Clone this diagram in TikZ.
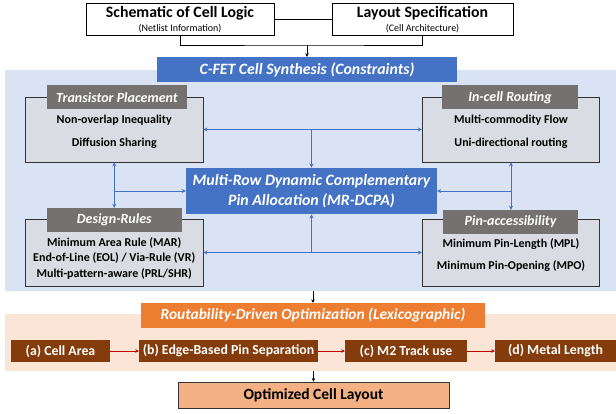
\documentclass[tikz,border=0pt]{standalone}
\usepackage{fontspec}
\setmainfont{Carlito}
\usetikzlibrary{arrows.meta}
\definecolor{cblue}{HTML}{4472C4}
\definecolor{bgblue}{HTML}{DAE3F3}
\definecolor{boxgray}{HTML}{D9DCE2}
\definecolor{hdrgray}{HTML}{767171}
\definecolor{corange}{HTML}{ED7D31}
\definecolor{bgpeach}{HTML}{FBE5D6}
\definecolor{cbrown}{HTML}{843C0C}
\definecolor{optfill}{HTML}{F4B183}
\definecolor{cred}{HTML}{C00000}
\tikzset{
  inbox/.style={draw=black, line width=0.8pt, fill=white, align=center, inner sep=0pt},
  bgarea/.style={draw=none, inner sep=0pt},
  bluebar/.style={fill=cblue, text=white, font=\fontsize{15.8}{18}\selectfont\bfseries\itshape, inner sep=0pt, align=center},
  panel/.style={draw=black!80, line width=0.7pt, fill=boxgray, inner sep=0pt, minimum width=177.5pt},
  hdr/.style={fill=hdrgray, text=white, font=\fontsize{14}{16}\selectfont\bfseries\itshape, inner sep=0pt, minimum height=24pt},
  body/.style={font=\fontsize{12}{14}\selectfont\bfseries, inner sep=0pt},
  barrow/.style={draw=cblue, line width=0.9pt, -{Stealth[length=4pt,width=4pt]}},
  bbarrow/.style={draw=cblue, line width=0.9pt, {Stealth[length=4pt,width=4pt]}-{Stealth[length=4pt,width=4pt]}},
  kline/.style={draw=black, line width=0.9pt},
  karrow/.style={draw=black, line width=0.9pt, -{Stealth[length=3.5pt,width=3.5pt]}},
  brownbox/.style={fill=cbrown, text=white, font=\fontsize{13.8}{16}\selectfont\bfseries, inner sep=0pt, minimum height=22pt},
  rarrow/.style={draw=cred, line width=0.6pt, -{Stealth[length=3.5pt,width=3.5pt]}},
  titletxt/.style={font=\fontsize{15.8}{18}\selectfont\bfseries, inner sep=0pt},
  subtxt/.style={font=\fontsize{10}{12}\selectfont, inner sep=0pt},
}
\begin{document}
\begin{tikzpicture}[x=1pt,y=-1pt]
\useasboundingbox (0,0) rectangle (616,413);
% input boxes
\node[inbox, minimum width=188pt, minimum height=32pt] (sch) at (180,19) {};
\node[titletxt] (schT) at (180,13) {Schematic of Cell Logic};
\node[subtxt] (schS) at (180,28.5) {(Netlist Information)};
\node[inbox, minimum width=181pt, minimum height=32pt] (lay) at (422.5,19) {};
\node[titletxt] (layT) at (422.5,13) {Layout Specification};
\node[subtxt] (layS) at (422.5,28.5) {(Cell Architecture)};
\draw[kline] (sch.east) -- (lay.west);
\coordinate (join) at (307,45);
\draw[kline] (sch.south) |- (join) -| (lay.south);
% blue area
\node[bgarea, fill=bgblue, minimum width=611pt, minimum height=221pt] (bgb) at (310.5,180.5) {};
\node[bluebar, minimum width=300pt, minimum height=25pt] (cfet) at (307,69.5) {C-FET Cell Synthesis (Constraints)};
\draw[karrow] (join) -- (cfet.north);
% panels
\node[panel, minimum height=65pt] (tp) at (114.25,129.5) {};
\node[hdr, minimum width=140pt] (tph) at (117,97.3) {Transistor Placement};
\node[body] (tp1) at (114.25,120.5) {Non-overlap Inequality};
\node[body] (tp2) at (114.25,143) {Diffusion Sharing};

\node[panel, minimum height=65pt] (icr) at (511,129.5) {};
\node[hdr, minimum width=136pt] (icrh) at (510,97.3) {In-cell Routing};
\node[body] (icr1) at (511,120.5) {Multi-commodity Flow};
\node[body] (icr2) at (511,143) {Uni-directional routing};

\node[panel, minimum height=67pt] (dr) at (114.25,252.5) {};
\node[hdr, minimum width=134.5pt] (drh) at (114.25,220) {Design-Rules};
\node[body] (dr1) at (114.25,242.5) {Minimum Area Rule (MAR)};
\node[body] (dr2) at (114.25,258) {End-of-Line (EOL) / Via-Rule (VR)};
\node[body] (dr3) at (114.25,273.5) {Multi-pattern-aware (PRL/SHR)};

\node[panel, minimum height=67pt] (pa) at (511,252.5) {};
\node[hdr, minimum width=135pt] (pah) at (510.5,222) {Pin-accessibility};
\node[body] (pa1) at (511,244.5) {Minimum Pin-Length (MPL)};
\node[body] (pa2) at (511,266.5) {Minimum Pin-Opening (MPO)};

\node[fill=cblue, text=white, font=\fontsize{15.8}{19.5}\selectfont\bfseries\itshape, inner sep=0pt, align=center, minimum width=251pt, minimum height=46.5pt] (mr) at (311.5,191) {Multi-Row Dynamic Complementary\\Pin Allocation (MR-DCPA)};

% blue connectors
\draw[bbarrow] (tp.east) -- (icr.west);
\coordinate (tj) at (mr.north |- tp.east);
\draw[barrow] (tj) -- (mr.north);
\draw[bbarrow] (dr.east) -- (pa.west);
\coordinate (bj) at (mr.south |- dr.east);
\draw[barrow] (bj) -- (mr.south);
\draw[bbarrow] (tp.south) -- (tp.south |- drh.north);
\coordinate (lj) at (tp.south |- mr.west);
\draw[barrow] (lj) -- (mr.west);
\draw[bbarrow] (icr.south) -- (icr.south |- pah.north);
\coordinate (rj) at (icr.south |- mr.east);
\draw[barrow] (rj) -- (mr.east);

% optimization area
\node[bgarea, fill=bgpeach, minimum width=611pt, minimum height=57pt] (bgp) at (310.5,342.5) {};
\node[fill=corange, text=white, font=\fontsize{15.5}{18}\selectfont\bfseries\itshape, inner sep=0pt, minimum width=344pt, minimum height=25pt] (rdo) at (313,315.5) {Routability-Driven Optimization (Lexicographic)};
\draw[karrow] (rdo.north |- bgb.south) -- (rdo.north);
\node[brownbox, minimum width=99pt] (ca) at (60.5,351) {(a) Cell Area};
\node[brownbox, minimum width=179pt] (cb) at (228.5,351) {(b) Edge-Based Pin Separation};
\node[brownbox, minimum width=122pt] (cc) at (406,351) {(c) M2 Track use};
\node[brownbox, minimum width=121pt] (cd) at (555.5,351) {(d) Metal Length};
\draw[rarrow] (ca.east) -- (cb.west);
\draw[rarrow] (cb.east) -- (cc.west);
\draw[rarrow] (cc.east) -- (cd.west);
\node[draw=black!80, line width=0.8pt, fill=optfill, font=\fontsize{15.5}{18}\selectfont\bfseries, inner sep=0pt, minimum width=271pt, minimum height=26pt] (opt) at (313.5,395) {Optimized Cell Layout};
\draw[karrow] (opt.north |- bgp.south) -- (opt.north);
\end{tikzpicture}
\end{document}
